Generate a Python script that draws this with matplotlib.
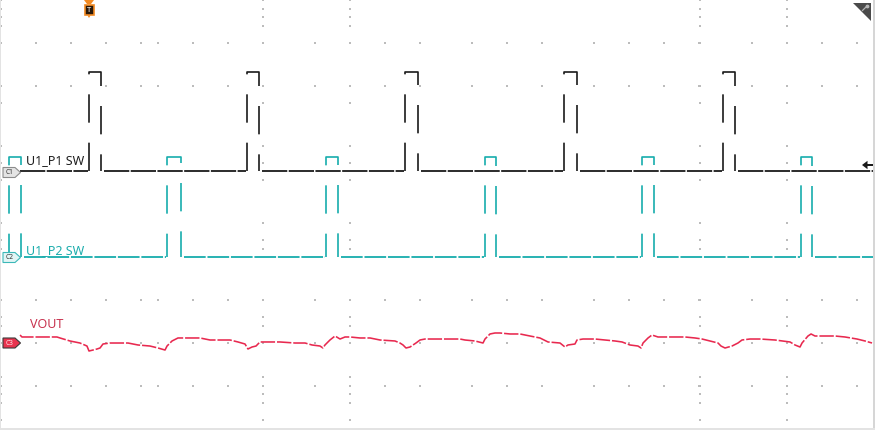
import matplotlib
matplotlib.use("Agg")
import matplotlib.pyplot as plt
from matplotlib.patches import Polygon, Rectangle

# ---------------- data (time in divisions, level in divisions from bottom) ----------------
p1_rise = [1.017, 2.823, 4.629, 6.446, 8.263]
p1_fall = [1.154, 2.960, 4.777, 6.594, 8.400]
p1_low, p1_high = 6.02, 8.33

p2_rise = [0.103, 1.909, 3.726, 5.543, 7.337, 9.154]
p2_fall = [0.240, 2.069, 3.863, 5.669, 7.474, 9.280]
p2_low, p2_high = 4.02, 6.35

trace_start, trace_end = 0.229, 9.977

vout_t = [0.229, 0.251, 0.491, 0.651, 0.686, 0.800, 0.914, 0.994, 1.017, 1.063, 1.109, 1.143,
          1.177, 1.257, 1.463, 1.577, 1.714, 1.806, 1.886, 1.909, 1.966, 2.034, 2.091, 2.286,
          2.400, 2.629, 2.720, 2.800, 2.834, 2.880, 2.926, 2.971, 3.029, 3.200, 3.371, 3.486,
          3.566, 3.657, 3.691, 3.714, 3.771, 3.829, 3.886, 3.943, 4.000, 4.114, 4.229, 4.343,
          4.514, 4.571, 4.606, 4.640, 4.686, 4.720, 4.754, 4.800, 4.857, 5.257, 5.314, 5.429,
          5.520, 5.543, 5.600, 5.657, 5.714, 5.829, 5.943, 6.057, 6.171, 6.263, 6.400, 6.457,
          6.491, 6.571, 6.594, 6.663, 6.800, 6.914, 7.029, 7.109, 7.200, 7.291, 7.326, 7.349,
          7.406, 7.451, 7.520, 7.829, 7.943, 8.023, 8.114, 8.206, 8.240, 8.286, 8.366, 8.434,
          8.480, 8.571, 8.686, 8.857, 9.029, 9.086, 9.143, 9.166, 9.234, 9.269, 9.314, 9.543,
          9.657, 9.794, 9.886, 9.966]
vout_v = [2.209, 2.163, 2.163, 2.163, 2.140, 2.070, 2.023, 1.953, 1.837, 1.860, 1.884, 1.907,
          2.000, 2.023, 2.023, 1.977, 1.953, 1.907, 1.860, 1.953, 2.070, 2.140, 2.140, 2.140,
          2.093, 2.093, 2.047, 2.000, 1.884, 1.930, 1.953, 2.047, 2.047, 2.047, 2.023, 2.023,
          1.977, 1.953, 1.907, 1.977, 2.093, 2.186, 2.116, 2.163, 2.163, 2.140, 2.140, 2.093,
          2.070, 2.023, 1.977, 1.907, 1.930, 1.977, 2.023, 2.093, 2.116, 2.116, 2.093, 2.070,
          2.023, 2.116, 2.233, 2.256, 2.256, 2.233, 2.233, 2.186, 2.140, 2.047, 2.023, 1.930,
          1.977, 2.000, 2.093, 2.116, 2.116, 2.093, 2.070, 2.047, 1.977, 1.953, 1.907, 2.023,
          2.140, 2.209, 2.163, 2.163, 2.140, 2.116, 2.070, 2.023, 1.953, 1.907, 1.953, 2.023,
          2.093, 2.116, 2.116, 2.093, 2.047, 1.977, 1.930, 2.023, 2.186, 2.233, 2.186, 2.186,
          2.163, 2.116, 2.070, 2.023]

labels = ["U1_P1 SW", "U1_P2 SW", "VOUT"]
markers = ["C1", "C2", "C3"]

# ---------------- styling ----------------
W, H = 875, 430
BLACK = "#1a1a1a"
CYAN = "#17adad"
RED = "#e8294f"
FONT = ["Noto Sans", "DejaVu Sans"]

fig = plt.figure(figsize=(W / 100, H / 100), dpi=100)
fig.patch.set_facecolor("white")

# bottom: graticule (pixel space)
gax = fig.add_axes([0, 0, 1, 1])
gax.set_xlim(0, W)
gax.set_ylim(H, 0)
gax.axis("off")

row_y = [43, 86, 300, 343, 386]
row_x = [36, 71, 106, 141, 158, 193, 228, 263, 315, 350, 385, 420, 472, 507, 542,
         594, 629, 664, 699, 752, 787, 822, 857]
col_x = [1, 263, 350, 700, 787]
col_y = [0, 9, 17, 26, 43, 86, 103, 146, 163, 180, 223, 240, 249, 300, 317, 326, 343,
         377, 386, 394, 403, 420]
gx, gy = [], []
for yy in row_y:
    for xx in row_x:
        gx.append(xx); gy.append(yy)
for xx in col_x:
    for yy in col_y:
        gx.append(xx); gy.append(yy)
gax.scatter(gx, gy, s=1.8, marker="s", color="#bcbcbc", linewidths=0)

# middle: data (divisions)
ax = fig.add_axes([0, 0, 1, 1])
ax.set_xlim(0, 10)
ax.set_ylim(0, 10)
ax.axis("off")
ax.patch.set_visible(False)

gap = 0.015


def draw_pulse_train(rises, falls, low, high, color, base_dash, edge_dash):
    starts = [trace_start] + list(falls)
    ends = list(rises) + [trace_end]
    for s, e in zip(starts, ends):
        s2 = s + 2 * gap if s != trace_start else s
        e2 = e - gap if e != trace_end else e
        if e2 > s2:
            ax.plot([s2, e2], [low, low], color=color, lw=1.3,
                    linestyle=base_dash, solid_capstyle="butt", dash_capstyle="butt")
    for r, f in zip(rises, falls):
        ax.plot([r, r, f, f], [low, high, high, low], color=color, lw=1.2,
                linestyle=edge_dash, dash_capstyle="butt")


draw_pulse_train(p1_rise, p1_fall, p1_low, p1_high, BLACK, (0, (14, 0.8)), (0, (17, 12)))
draw_pulse_train(p2_rise, p2_fall, p2_low, p2_high, CYAN, (0, (12, 1.0)), (3, (17, 12)))

ax.plot(vout_t, vout_v, color=RED, lw=1.15, linestyle=(0, (9, 1.2)), dash_capstyle="butt")

# top: overlay decorations (pixel space)
ov = fig.add_axes([0, 0, 1, 1])
ov.set_xlim(0, W)
ov.set_ylim(H, 0)
ov.axis("off")
ov.patch.set_visible(False)

# screen borders
ov.add_patch(Rectangle((872.5, 0), 2.5, H, fc="#d6d6d6", ec="none"))
ov.add_patch(Rectangle((0, 427.5), W, 2.5, fc="#e3e3e3", ec="none"))
ov.add_patch(Rectangle((0, 0), 1.2, H, fc="#e3e3e3", ec="none"))

# channel markers
mk_y = [172.5, 257.5, 343]
mk_fc = ["#e4e4e4", "#e2f5f5", "#e8344f"]
mk_ec = ["#8c8c8c", "#3cb8b8", "#3a3a3a"]
mk_tc = ["#333333", "#333333", "#ffe6ea"]
for name, yc, fc, ec, tc in zip(markers, mk_y, mk_fc, mk_ec, mk_tc):
    ov.add_patch(Polygon([(3, yc - 5), (15, yc - 5), (20.5, yc), (15, yc + 5), (3, yc + 5)],
                         closed=True, fc=fc, ec=ec, lw=0.8, zorder=5))
    ov.text(9.5, yc + 0.3, name, fontsize=4.8, color=tc, ha="center", va="center",
            family=FONT, zorder=6)

# channel labels
lab_pos = [(25.5, 164), (26.5, 254), (29.5, 328)]
lab_col = ["#1e1e1e", "#1cadad", "#c8334f"]
for t, (lx, ly), c in zip(labels, lab_pos, lab_col):
    ov.text(lx, ly, t, fontsize=9, color=c, ha="left", va="baseline", family=FONT, zorder=6)

# trigger position marker (top)
ORANGE = "#f28a22"
ov.add_patch(Polygon([(84, 0), (94, 0), (91, 4), (87, 4)], closed=True, fc=ORANGE, ec="none", zorder=6))
ov.add_patch(Rectangle((84.5, 5), 9.5, 10, fc="#2a1808", ec=ORANGE, lw=1.2, zorder=6))
ov.add_patch(Polygon([(87.5, 15.5), (90.5, 15.5), (89, 18)], closed=True, fc=ORANGE, ec="none", zorder=6))
ov.text(89.3, 10.5, "T", fontsize=5.5, color="white", ha="center", va="center",
        family=FONT, fontweight="bold", zorder=7)

# trigger level marker (right)
ov.add_patch(Polygon([(862, 165), (867.5, 160.8), (867.5, 169.2)], closed=True, fc=BLACK, ec="none", zorder=6))
ov.add_patch(Rectangle((867, 163.6), 6, 2.8, fc=BLACK, ec="none", zorder=6))

# top-right corner badge
ov.add_patch(Polygon([(852.5, 3), (870.5, 3), (870.5, 21)], closed=True, fc="#4a4a4a", ec="none", zorder=6))
ov.plot([862.5, 867], [10.5, 6], color="#b5b5b5", lw=0.9, zorder=7)
ov.scatter([867.2], [5.8], s=3, color="#b5b5b5", zorder=7)

fig.savefig("out.png", dpi=100, facecolor="white")
